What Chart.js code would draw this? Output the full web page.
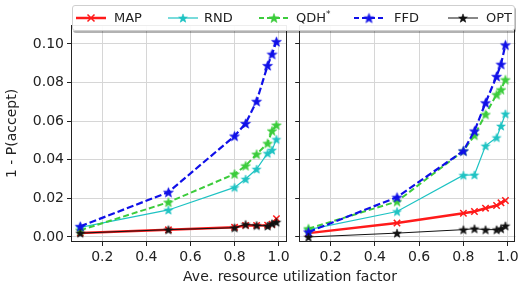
<!DOCTYPE html>
<html>
<head>
<meta charset="utf-8">
<script src="https://cdn.jsdelivr.net/npm/chart.js@4"></script>
<style>
  body { margin: 0; background: #fff; font-family: "DejaVu Sans", sans-serif; }
  #wrap { position: relative; width: 522px; height: 291px; overflow: hidden; }
  #chartA { position: absolute; left: 0; top: 0; }
  #chartB { position: absolute; left: 293px; top: 0; }
  #legend {
    position: absolute; left: 72px; top: 5px; width: 441px; height: 24px;
    background: rgba(255,255,255,0.92); border: 1px solid #cfcfcf; border-radius: 3px;
    box-shadow: 1px 2px 0 rgba(0,0,0,0.3);
  }
  .lg-item { position: absolute; top: 0; height: 24px; }
  .lg-item canvas { position: absolute; top: 6px; left: 0; }
  .lg-item span { position: absolute; top: 4px; font-size: 13px; color: #222; white-space: nowrap; line-height: 16px; }
  .lg-item sup { font-size: 9px; vertical-align: 5px; line-height: 0; }
  #xtitle { position: absolute; left: 0; width: 580px; top: 268px; text-align: center; font-size: 14px; color: #222; line-height: 16px; }
</style>
</head>
<body>
<div id="wrap">
  <canvas id="chartA" width="293" height="291"></canvas>
  <canvas id="chartB" width="229" height="291"></canvas>
  <div id="legend"></div>
  <div id="xtitle">Ave. resource utilization factor</div>
</div>
<script>
const util = [0.1, 0.5, 0.8, 0.85, 0.9, 0.95, 0.97, 0.99];
const xTicks = [0.2, 0.4, 0.6, 0.8, 1.0];
const yTicks = [0.00, 0.02, 0.04, 0.06, 0.08, 0.10];
const seriesNames = ['MAP', 'RND', 'QDH*', 'FFD', 'OPT'];

// left panel
const mapA = [0.0020, 0.0037, 0.0050, 0.0060, 0.0060, 0.0061, 0.0066, 0.0095];
const rndA = [0.0050, 0.0140, 0.0257, 0.0300, 0.0352, 0.0434, 0.0450, 0.0506];
const qdhA = [0.0035, 0.0180, 0.0326, 0.0369, 0.0429, 0.0485, 0.0550, 0.0580];
const ffdA = [0.0055, 0.0232, 0.0523, 0.0588, 0.0703, 0.0888, 0.0947, 0.1012];
const optA = [0.0020, 0.0038, 0.0048, 0.0065, 0.0060, 0.0057, 0.0069, 0.0077];

// right panel
const mapB = [0.0020, 0.0072, 0.0123, 0.0132, 0.0149, 0.0163, 0.0177, 0.0189];
const rndB = [0.0038, 0.0132, 0.0320, 0.0322, 0.0472, 0.0515, 0.0575, 0.0638];
const qdhB = [0.0043, 0.0184, 0.0446, 0.0527, 0.0635, 0.0738, 0.0763, 0.0815];
const ffdB = [0.0026, 0.0206, 0.0446, 0.0549, 0.0695, 0.0832, 0.0895, 0.0995];
const optB = [0.0000, 0.0020, 0.0038, 0.0043, 0.0038, 0.0038, 0.0043, 0.0058];

const RED = '#ff1a1a', CYAN = '#1fc3c3', GREEN = '#3ccc3c', BLUE = '#1010e8', BLACK = '#111';

function starPath(ctx, cx, cy, r) {
  ctx.beginPath();
  for (let i = 0; i < 10; i++) {
    const rr = i % 2 === 0 ? r : r * 0.42;
    const a = -Math.PI / 2 + i * Math.PI / 5;
    ctx.lineTo(cx + rr * Math.cos(a), cy + rr * Math.sin(a));
  }
  ctx.closePath();
}

function makeStar(color, r) {
  const c = document.createElement('canvas');
  const s = Math.ceil(r * 2 + 2);
  c.width = s; c.height = s;
  const ctx = c.getContext('2d');
  starPath(ctx, s / 2, s / 2 + 0.5, r);
  ctx.fillStyle = color;
  ctx.fill();
  ctx.lineWidth = 0.6;
  ctx.strokeStyle = color;
  ctx.stroke();
  return c;
}

const stars = {
  rnd: makeStar(CYAN, 4.6),
  qdh: makeStar(GREEN, 5),
  ffd: makeStar(BLUE, 5.2),
  opt: makeStar(BLACK, 4.6)
};

const pts = ys => util.map((x, i) => ({ x, y: ys[i] }));

function datasets(map, rnd, qdh, ffd, opt) {
  return [
    { label: 'MAP', data: pts(map), borderColor: RED, backgroundColor: RED, borderWidth: 2.5,
      pointStyle: 'crossRot', pointRadius: 4.5, pointBorderWidth: 1.5, order: 4 },
    { label: 'RND', data: pts(rnd), borderColor: CYAN, backgroundColor: CYAN, borderWidth: 1.2,
      pointStyle: stars.rnd, pointRadius: 4, order: 3 },
    { label: 'QDH*', data: pts(qdh), borderColor: GREEN, backgroundColor: GREEN, borderWidth: 2,
      borderDash: [6, 3], pointStyle: stars.qdh, pointRadius: 4, order: 2 },
    { label: 'FFD', data: pts(ffd), borderColor: BLUE, backgroundColor: BLUE, borderWidth: 2.2,
      borderDash: [7, 3], pointStyle: stars.ffd, pointRadius: 4, order: 1 },
    { label: 'OPT', data: pts(opt), borderColor: BLACK, backgroundColor: BLACK, borderWidth: 1,
      pointStyle: stars.opt, pointRadius: 4, order: 0 }
  ];
}

const framePlugin = {
  id: 'frame',
  afterDatasetsDraw(chart) {
    const a = chart.chartArea, ctx = chart.ctx;
    ctx.save();
    ctx.strokeStyle = '#222';
    ctx.lineWidth = 1;
    ctx.strokeRect(Math.round(a.left) + 0.5, Math.round(a.top) + 0.5,
      Math.round(a.right - a.left) - 1, Math.round(a.bottom - a.top) - 1);
    ctx.restore();
  }
};

function buildChart(id, sets, leftPanel) {
  return new Chart(document.getElementById(id), {
    type: 'line',
    data: { datasets: sets },
    plugins: [framePlugin],
    options: {
      responsive: false,
      animation: false,
      layout: { padding: { top: 25, right: 3, left: 0, bottom: 0 } },
      plugins: { legend: { display: false }, tooltip: { enabled: false } },
      elements: { line: { tension: 0, fill: false } },
      scales: {
        x: {
          type: 'linear', min: 0.058, max: 1.036,
          afterBuildTicks: s => { s.ticks = xTicks.map(v => ({ value: v })); },
          afterFit: s => { s.height = 49; },
          grid: { color: '#d6d6d6', tickColor: '#222', tickLength: 4 },
          border: { display: false },
          ticks: { color: '#222', font: { family: 'DejaVu Sans', size: 14 }, padding: 3,
                   maxRotation: 0, callback: v => v.toFixed(1) }
        },
        y: {
          type: 'linear', min: -0.0026, max: 0.1098,
          afterBuildTicks: s => { s.ticks = yTicks.map(v => ({ value: v })); },
          afterFit: s => { s.width = leftPanel ? 71 : 5; },
          grid: { color: '#d6d6d6', tickColor: '#222', tickLength: 4 },
          border: { display: false },
          title: { display: leftPanel, text: '1 - P(accept)', color: '#222',
                   font: { family: 'DejaVu Sans', size: 14 }, padding: { top: 4, bottom: 0 } },
          ticks: { color: '#222', font: { family: 'DejaVu Sans', size: 14 }, padding: 3,
                   callback: v => leftPanel ? v.toFixed(2) : '' }
        }
      }
    }
  });
}

buildChart('chartA', datasets(mapA, rndA, qdhA, ffdA, optA), true);
buildChart('chartB', datasets(mapB, rndB, qdhB, ffdB, optB), false);

// legend
const legendPos = [
  { line: 3, text: 41 },
  { line: 95, text: 131 },
  { line: 186, text: 223 },
  { line: 281, text: 321 },
  { line: 375, text: 413 }
];
const legendStyle = [
  { color: RED, width: 2.5, dash: [], marker: 'x' },
  { color: CYAN, width: 1.2, dash: [], marker: stars.rnd },
  { color: GREEN, width: 2, dash: [5, 3], marker: stars.qdh },
  { color: BLUE, width: 2.2, dash: [5, 3], marker: stars.ffd },
  { color: BLACK, width: 1, dash: [], marker: stars.opt }
];
const legendEl = document.getElementById('legend');
seriesNames.forEach((name, i) => {
  const item = document.createElement('div');
  item.className = 'lg-item';
  item.style.left = legendPos[i].line + 'px';
  const c = document.createElement('canvas');
  c.width = 30; c.height = 12;
  const ctx = c.getContext('2d');
  const st = legendStyle[i];
  ctx.strokeStyle = st.color;
  ctx.lineWidth = st.width;
  ctx.setLineDash(st.dash);
  ctx.beginPath(); ctx.moveTo(0, 6); ctx.lineTo(30, 6); ctx.stroke();
  ctx.setLineDash([]);
  if (st.marker === 'x') {
    ctx.lineWidth = 1.5;
    ctx.beginPath();
    ctx.moveTo(11.5, 2.5); ctx.lineTo(18.5, 9.5);
    ctx.moveTo(18.5, 2.5); ctx.lineTo(11.5, 9.5);
    ctx.stroke();
  } else {
    ctx.drawImage(st.marker, 15 - st.marker.width / 2, 6 - st.marker.height / 2);
  }
  item.appendChild(c);
  const sp = document.createElement('span');
  if (name.endsWith('*')) {
    sp.textContent = name.slice(0, -1);
    const sup = document.createElement('sup');
    sup.textContent = '*';
    sp.appendChild(sup);
  } else {
    sp.textContent = name;
  }
  sp.style.left = (legendPos[i].text - legendPos[i].line) + 'px';
  item.appendChild(sp);
  legendEl.appendChild(item);
});
</script>
</body>
</html>
